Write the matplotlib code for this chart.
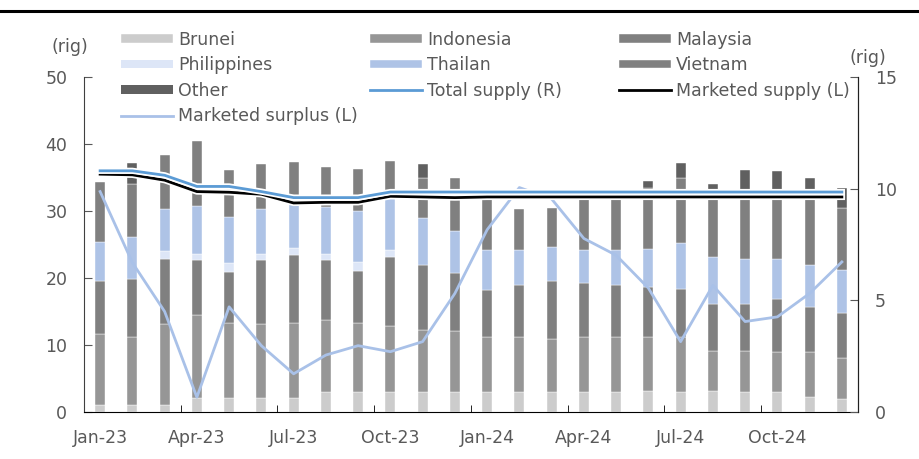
import numpy as np
import matplotlib.pyplot as plt
import matplotlib.patheffects as pe
from matplotlib.lines import Line2D

months = ['Jan-23', 'Feb-23', 'Mar-23', 'Apr-23', 'May-23', 'Jun-23',
          'Jul-23', 'Aug-23', 'Sep-23', 'Oct-23', 'Nov-23', 'Dec-23',
          'Jan-24', 'Feb-24', 'Mar-24', 'Apr-24', 'May-24', 'Jun-24',
          'Jul-24', 'Aug-24', 'Sep-24', 'Oct-24', 'Nov-24', 'Dec-24']

# rig counts by country (left axis)
brunei      = [1.1, 1.1, 1.1, 2.1, 2.1, 2.1, 2.1, 3.0, 3.0, 3.0, 3.0, 3.0,
               3.0, 3.0, 3.0, 3.0, 3.0, 3.2, 3.0, 3.2, 3.0, 3.0, 2.3, 1.9]
indonesia   = [10.5, 10.1, 12.0, 12.4, 11.2, 11.0, 11.2, 10.8, 10.3, 9.9, 9.2, 9.1,
               8.2, 8.2, 7.9, 8.2, 8.2, 8.0, 8.2, 5.9, 6.1, 5.9, 6.6, 6.1]
malaysia    = [8.0, 8.7, 9.8, 8.2, 7.6, 9.6, 10.1, 8.9, 7.7, 10.2, 9.7, 8.7,
               7.0, 7.7, 8.7, 8.0, 7.7, 7.5, 7.2, 7.0, 7.0, 7.9, 6.8, 6.8]
philippines = [0, 0, 1.1, 0.9, 1.3, 0.9, 1.1, 0.9, 1.4, 1.1, 0, 0,
               0, 0, 0, 0, 0, 0, 0, 0, 0, 0, 0, 0]
thailand    = [5.8, 6.2, 6.3, 7.2, 6.9, 6.7, 6.6, 7.0, 7.6, 8.1, 7.0, 6.2,
               6.0, 5.3, 5.1, 5.0, 5.3, 5.6, 6.8, 7.0, 6.8, 6.1, 6.2, 6.4]
vietnam     = [8.9, 7.9, 8.1, 9.6, 7.0, 6.7, 6.2, 6.0, 6.2, 5.2, 6.0, 7.9,
               8.0, 6.1, 5.7, 7.8, 8.1, 9.2, 9.7, 10.0, 9.7, 9.1, 10.1, 9.2]
other       = [0, 3.2, 0, 0, 0, 0, 0, 0, 0, 0, 2.1, 0,
               0, 0, 0, 0, 0, 1.0, 2.2, 0.9, 3.5, 3.9, 3.0, 3.1]

# lines
total_supply = [10.8, 10.8, 10.6, 10.1, 10.1, 9.87, 9.6, 9.6, 9.6, 9.85, 9.85, 9.85,
                9.85, 9.85, 9.85, 9.85, 9.85, 9.85, 9.85, 9.85, 9.85, 9.85, 9.85, 9.85]
marketed_supply = [35.5, 35.4, 34.6, 32.9, 32.8, 32.5, 31.2, 31.3, 31.3, 32.2, 32.1, 32.0,
                   32.1, 32.1, 32.1, 32.1, 32.1, 32.1, 32.1, 32.1, 32.1, 32.1, 32.1, 32.1]
marketed_surplus = [32.9, 22.3, 15.0, 2.2, 15.7, 9.9, 5.7, 8.5, 9.9, 9.0, 10.5, 17.7,
                    27.2, 33.5, 31.8, 25.9, 23.4, 18.5, 10.5, 18.9, 13.5, 14.2, 17.7, 22.4]

txt = '#595959'
plt.rcParams['font.family'] = ['DejaVu Sans']
plt.rcParams['font.size'] = 12.5

x = np.arange(len(months))
fig = plt.figure(figsize=(9.2, 4.59), dpi=100)
ax = fig.add_axes([0.0913, 0.1024, 0.8413, 0.7298])

series = [(brunei, '#cccccc', 'Brunei'), (indonesia, '#969696', 'Indonesia'),
          (malaysia, '#808080', 'Malaysia'), (philippines, '#dde6f7', 'Philippines'),
          (thailand, '#aec3e6', 'Thailan'), (vietnam, '#808080', 'Vietnam'),
          (other, '#606060', 'Other')]
bottom = np.zeros(len(months))
bars = {}
for vals, col, lab in series:
    lws = [0.3 if v > 0 else 0 for v in vals]
    bars[lab] = ax.bar(x, vals, 0.31, bottom=bottom, color=col, edgecolor='white',
                       linewidth=lws, label=lab)
    bottom += np.array(vals)

stroke = [pe.withStroke(linewidth=4.5, foreground='white')]
l_surplus, = ax.plot(x, marketed_surplus, color='#a9c1e8', lw=2.0, label='Marketed surplus (L)')
l_msupply, = ax.plot(x, marketed_supply, color='black', lw=2.0, label='Marketed supply (L)',
                     path_effects=stroke)
ax.set_ylim(0, 50)
ax.set_xlim(-0.5, 23.5)
ax.set_yticks(range(0, 51, 10))

ax2 = ax.twinx()
l_total, = ax2.plot(x, total_supply, color='#5b9bd5', lw=2.0, label='Total supply (R)',
                    path_effects=stroke)
ax2.set_ylim(0, 15)
ax2.set_yticks([0, 5, 10, 15])

# x ticks: labels every quarter, marks between categories
ax.set_xticks(x[::3])
ax.set_xticklabels(months[::3])
ax.set_xticks(np.arange(2.5, 23, 3), minor=True)
ax.tick_params(axis='x', which='major', length=0, pad=12, colors=txt)
ax.tick_params(axis='x', which='minor', length=5, direction='in', color='black')
ax.tick_params(axis='y', direction='in', length=6, pad=12, colors=txt)
ax2.tick_params(axis='y', direction='in', length=6, pad=12, colors=txt)

for a in (ax, ax2):
    a.spines['top'].set_visible(False)
    a.spines['left'].set_color('#404040')
    a.spines['right'].set_color('#202020')
    a.spines['bottom'].set_color('black')
ax2.spines['left'].set_visible(False)
ax2.spines['bottom'].set_visible(False)

# legend in three columns
leg_kw = dict(loc='upper left', frameon=False, fontsize=12.5, handlelength=3.0,
              handleheight=0.4, handletextpad=0.3, labelspacing=0.42,
              borderpad=0, borderaxespad=0, labelcolor=txt)
col1 = [bars['Brunei'], bars['Philippines'], bars['Other'], l_surplus]
col2 = [bars['Indonesia'], bars['Thailan'], l_total]
col3 = [bars['Malaysia'], bars['Vietnam'], l_msupply]
for hs, xpos in zip([col1, col2, col3], [121, 370, 619]):
    fig.legend(hs, [h.get_label() for h in hs], bbox_to_anchor=(xpos / 920, 1 - 31 / 459), **leg_kw)

fig.text(70 / 920, 1 - 47 / 459, '(rig)', ha='center', va='center', color=txt)
fig.text(868 / 920, 1 - 58 / 459, '(rig)', ha='center', va='center', color=txt)
fig.add_artist(Line2D([0, 1], [1 - 11 / 459, 1 - 11 / 459], color='black', lw=2.2,
                      transform=fig.transFigure))

fig.savefig('out.png', dpi=100)
